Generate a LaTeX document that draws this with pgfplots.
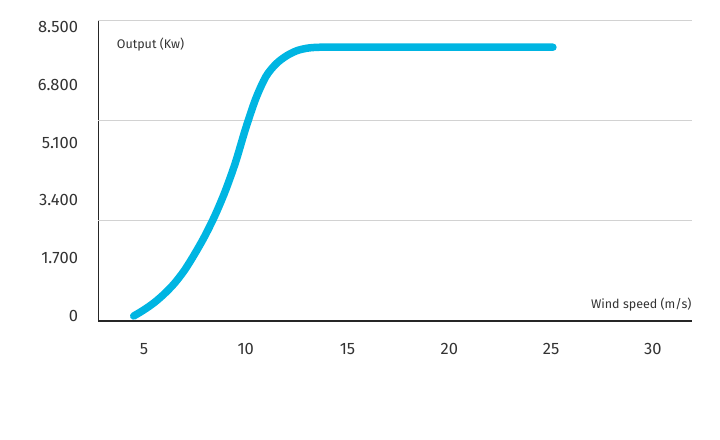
\documentclass[border=0pt]{standalone}
\usepackage{pgfplots}
\pgfplotsset{compat=1.18}
\usepackage{fontspec}
\setmainfont{Fira Sans}
\definecolor{curve}{RGB}{0,181,226}
\definecolor{txt}{RGB}{51,51,51}
\definecolor{gridc}{RGB}{210,210,210}
\pgfplotstableread{
x y
4.50 0
5.00 180
5.50 390
6.00 650
6.50 960
7.00 1350
7.50 1830
8.00 2360
8.50 2970
9.00 3680
9.50 4520
10.00 5520
10.50 6400
11.00 7050
11.50 7420
12.00 7650
12.50 7800
13.00 7875
13.50 7903
14.00 7905
15.00 7905
17.00 7905
20.00 7905
23.00 7905
25.09 7905
}\powercurve
\begin{document}
\begin{tikzpicture}
\path[use as bounding box] (-98.5bp,-119bp) rectangle (621.5bp,321bp);
\begin{axis}[
  at={(0,0)}, anchor=south west,
  scale only axis,
  width=593.5bp, height=301bp,
  xmin=2.77, xmax=31.92,
  ymin=-147, ymax=8706,
  axis x line*=bottom,
  axis y line*=left,
  axis line style={line width=1.2bp, color=black!85, -},
  xtick={5,10,15,20,25,30},
  ytick={0,1700,3400,5100,6800,8500},
  yticklabels={0,1.700,3.400,5.100,6.800,8.500},
  extra y ticks={2824,5765,8706},
  extra y tick labels={},
  extra y tick style={grid=major, major tick length=0pt},
  grid style={gridc, line width=0.9bp},
  major tick length=0pt,
  tick style={draw=none},
  tick label style={font=\fontsize{16.5bp}{19bp}\selectfont, text=txt},
  /pgf/number format/assume math mode=true,
  yticklabel style={anchor=east, xshift=-17bp},
  xticklabel style={anchor=center, yshift=-28bp},
  clip=false,
]
\addplot[curve, line width=7.5bp, line cap=round, line join=round, smooth, tension=0.5] table[x=x,y=y] {\powercurve};
\node[anchor=base west, font=\fontsize{12.5bp}{15bp}\selectfont, text=txt] at (axis cs:3.5,7880) {Output (Kw)};
\node[anchor=base east, font=\fontsize{12.5bp}{15bp}\selectfont, text=txt] at (rel axis cs:1,0) [yshift=13bp, xshift=3bp] {Wind speed (m/s)};
\end{axis}
\end{tikzpicture}
\end{document}
